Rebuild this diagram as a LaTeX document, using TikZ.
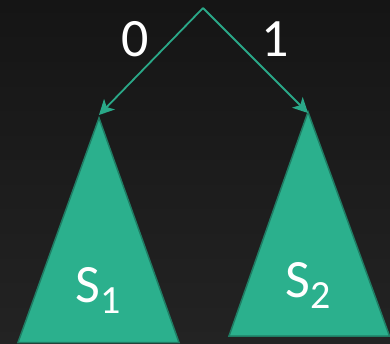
\documentclass[tikz,border=0pt]{standalone}
\usepackage{fontspec}
\setmainfont{Carlito}
\usetikzlibrary{arrows.meta}
\definecolor{bgtop}{HTML}{151515}
\definecolor{bgbot}{HTML}{232323}
\definecolor{teal}{HTML}{2BB08D}
\definecolor{tealedge}{HTML}{1F7D64}
\definecolor{arrowc}{HTML}{2AA888}
\newcommand{\mysub}[1]{\raisebox{-11pt}{\fontsize{40}{44}\selectfont #1}}
\tikzset{
  tri/.style={fill=teal, draw=tealedge, line width=1.5pt, line join=miter},
  edgearrow/.style={draw=arrowc, line width=1.8pt, -{Stealth[length=15pt,width=15pt,inset=4pt]}},
  lbl/.style={text=white, font=\fontsize{54}{60}\selectfont, inner sep=0pt},
}
\begin{document}
\begin{tikzpicture}[x=1pt,y=-1pt]
\shade[top color=bgtop, bottom color=bgbot] (0,0) rectangle (390,344);
\useasboundingbox (0,0) rectangle (390,344);
\coordinate (root) at (203,8);
\coordinate (t1) at (99,115);
\coordinate (t2) at (308,113);
\draw[tri] (99,118) -- (179,342.5) -- (18,342.5) -- cycle;
\draw[tri] (308,112) -- (389.5,336) -- (229,336) -- cycle;
\draw[edgearrow] (root) -- (t1);
\draw[edgearrow] (root) -- (t2);
\node[lbl] (zero) at (135,39) {0};
\node[lbl] (one) at (275,39) {1};
\node[lbl, anchor=base] (s1) at (98,302) {S\mysub{1}};
\node[lbl, anchor=base] (s2) at (308.5,297) {S\mysub{2}};
\end{tikzpicture}
\end{document}
